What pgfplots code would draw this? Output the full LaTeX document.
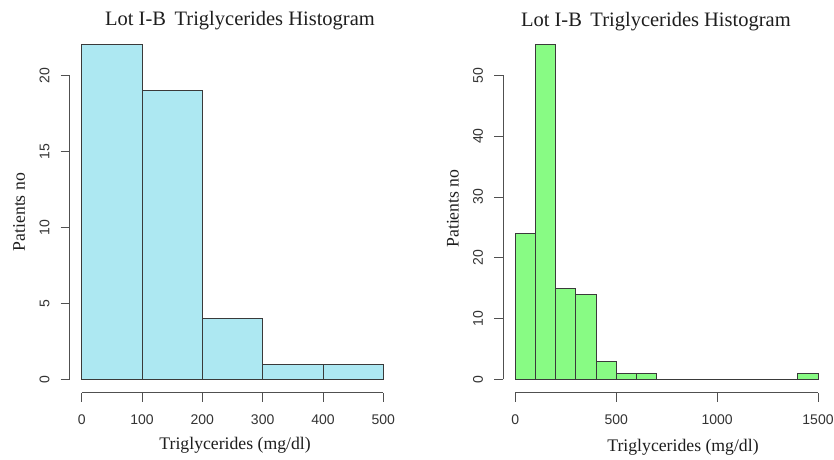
\documentclass[border=0pt]{standalone}
\usepackage{pgfplots}
\pgfplotsset{compat=1.18}
\usepackage{fontspec}
\setmainfont{Liberation Serif}
\newfontfamily\ticksans{Liberation Sans}

\definecolor{barblue}{HTML}{ADE8F2}
\definecolor{bargreen}{HTML}{88FB84}
\definecolor{edgegray}{HTML}{3A3A3A}
\definecolor{axgray}{HTML}{505050}
\definecolor{ticktxt}{HTML}{333333}
\definecolor{txt}{HTML}{1E1E1E}

% Histogram frequencies: left edge of each bin, count (last row closes the interval)
\pgfplotstableread{
x y
0 22
100 19
200 4
300 1
400 1
500 1
}\lotsmall
\pgfplotstableread{
x y
0 24
100 55
200 15
300 14
400 3
500 1
600 1
700 0
800 0
900 0
1000 0
1100 0
1200 0
1300 0
1400 1
1500 1
}\lotlarge

\pgfplotsset{
  rhist/.style={
    scale only axis,
    clip=false,
    axis line style={draw=none},
    tick align=outside,
    xtick pos=bottom,
    ytick pos=left,
    major tick length=9pt,
    every tick/.style={axgray, line width=0.8pt},
    /pgf/number format/assume math mode=true,
    /pgf/number format/1000 sep={},
    tick label style={font=\ticksans\fontsize{14}{16}\selectfont, text=ticktxt},
    xticklabel style={anchor=north, inner sep=0pt, yshift=-13pt},
    yticklabel style={rotate=90, anchor=south, inner sep=0pt, yshift=11pt},
    every axis title shift/.style={},
    title style={font=\fontsize{20.5}{24}\selectfont, text=txt, anchor=base, yshift=-5pt},
    label style={font=\fontsize{17.7}{20}\selectfont, text=txt},
    xlabel style={anchor=base},
    ylabel style={anchor=base},
  }
}

\begin{document}
\begin{tikzpicture}
\useasboundingbox[fill=white] (0,0) rectangle (834pt,459pt);

\begin{axis}[rhist,
  at={(69.6pt,66.3pt)}, anchor=south west,
  width=325.8pt, height=361.2pt,
  xmin=-20, xmax=520, ymin=-0.88, ymax=22.88,
  xtick={0,100,...,500}, ytick={0,5,...,20},
  title={Lot I-B\, Triglycerides Histogram},
  title style={at={(axis description cs:0.523,1.0152)}},
  xlabel={Triglycerides (mg/dl)},
  xlabel style={at={(axis description cs:0.508,-0.1586)}},
  ylabel={Patients no},
  ylabel style={at={(axis description cs:-0.1369,0.5)}},
]
\addplot[ybar interval, fill=barblue, draw=edgegray, line width=0.8pt] table[x=x, y=y] {\lotsmall};
\draw[axgray, line width=0.8pt] (axis cs:0,-0.88) -- (axis cs:500,-0.88);
\draw[axgray, line width=0.8pt] (axis cs:-20,0) -- (axis cs:-20,20);
\end{axis}

\begin{axis}[rhist,
  at={(503.2pt,66.3pt)}, anchor=south west,
  width=326.9pt, height=361.2pt,
  xmin=-60, xmax=1560, ymin=-2.2, ymax=57.2,
  xtick={0,500,1000,1500}, ytick={0,10,...,50},
  title={Lot I-B\, Triglycerides Histogram},
  title style={at={(axis description cs:0.467,1.0115)}},
  xlabel={Triglycerides (mg/dl)},
  xlabel style={at={(axis description cs:0.55,-0.1633)}},
  ylabel={Patients no},
  ylabel style={at={(axis description cs:-0.1361,0.51)}},
]
\addplot[ybar interval, fill=bargreen, draw=edgegray, line width=0.8pt] table[x=x, y=y] {\lotlarge};
\draw[axgray, line width=0.8pt] (axis cs:0,-2.2) -- (axis cs:1500,-2.2);
\draw[axgray, line width=0.8pt] (axis cs:-60,0) -- (axis cs:-60,50);
\end{axis}
\end{tikzpicture}
\end{document}
